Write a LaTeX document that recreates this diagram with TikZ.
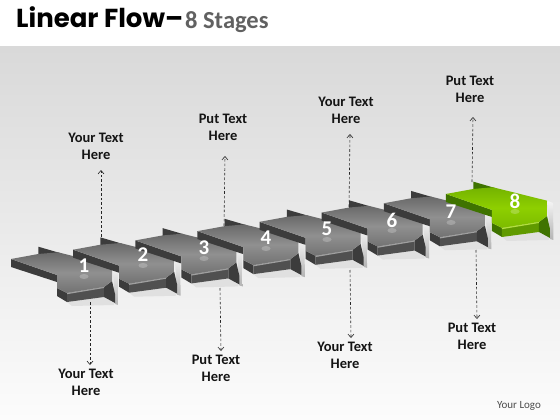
\documentclass[tikz,border=0pt]{standalone}
\usepackage{fontspec}
\setmainfont{Carlito}
\newfontfamily\titlefont{Poppins}
\usetikzlibrary{arrows.meta}
\definecolor{bgtop}{HTML}{D9D9D9}
\definecolor{bgbot}{HTML}{FCFCFC}
\definecolor{ka}{HTML}{696969}\definecolor{kb}{HTML}{909090}\definecolor{kc}{HTML}{727272}
\definecolor{ks}{HTML}{505050}\definecolor{kd}{HTML}{3C3C3C}\definecolor{ke}{HTML}{A0A0A0}
\definecolor{ga}{HTML}{74B300}\definecolor{gb}{HTML}{8ECF00}\definecolor{gc}{HTML}{7CBB00}
\definecolor{gs}{HTML}{609A00}\definecolor{gd}{HTML}{3F7300}\definecolor{ge}{HTML}{B4E040}
\tikzset{
  x=1pt,y=-1pt,
  lab/.style={font=\bfseries\fontsize{14.5}{17}\selectfont,text=black!92,align=center,inner sep=0pt},
  num/.style={font=\bfseries\fontsize{21}{21}\selectfont,text=white,inner sep=0pt},
  lead/.style={dash pattern=on 2.6pt off 2pt,line width=.6pt,black!85,-{Straight Barb[length=3.5pt,width=6pt]}}
}
\newcommand{\arrowshape}[9]{%
  \begin{scope}[shift={(#1,#2)}]
    \fill[black!12] (67,302) -- (104,297) -- (114,303) -- (114,305) -- (72,306) -- cycle;
    \path[top color=black!4,bottom color=black!30] (112.5,266) -- (118,268) -- (118.5,305) -- (115,304) -- cycle;
    \fill[#7] (38.3,246.7) -- (60,253) -- (38.3,254.5) -- cycle;
    \fill[#7] (11,259) -- (57,275) -- (57,296) -- (67,302) -- (67,293) -- (57,288) -- (57,282) -- (11,267) -- cycle;
    \fill[#6] (67,293) -- (104,287) -- (104,297) -- (67,302) -- cycle;
    \fill[#7] (104,287) -- (112,281) -- (115,294) -- (115,303) -- (104,297) -- cycle;
    \path[shading angle=15,top color=#3,bottom color=#5,middle color=#4] (11,259) -- (38.3,254) -- (58,252.3) -- (112,265.7) -- (112,281) -- (104,287) -- (67,293) -- (57,288) -- (57,275) -- cycle;
    \fill[#8] (67,293) -- (104,287) -- (104,288) -- (67,294.2) -- cycle;
    \coordinate (#9) at (0,0);
  \end{scope}}
\begin{document}
\begin{tikzpicture}
\useasboundingbox (0,0) rectangle (560,420);
\fill[white] (0,0) rectangle (560,420);
\path[top color=bgtop,bottom color=bgbot] (0,47) rectangle (560,420);
\node[anchor=base west,inner sep=0pt,font=\titlefont\bfseries\fontsize{26}{26}\selectfont] (title) at (16,28) {Linear Flow–};
\node[anchor=base west,inner sep=0pt,font=\bfseries\fontsize{24.5}{25}\selectfont,text=black!62] (sub) at (185,28.5) {8 Stages};
\foreach \i/\n in {1/a,2/b,3/c,4/d,5/e,6/f,7/g}{
  \pgfmathsetmacro{\dx}{(\i-1)*62.14}
  \pgfmathsetmacro{\dy}{-(\i-1)*9.29}
  \arrowshape{\dx}{\dy}{ka}{kb}{kc}{ks}{kd}{ke}{s\n}
}
\arrowshape{434.98}{-65.03}{ga}{gb}{gc}{gs}{gd}{ge}{sh}
\foreach \t/\x/\y in {1/84/266,2/143/255,3/204/248,4/266/238,5/327/229,6/392/220,7/451/212,8/515/201}{
  \fill[white,opacity=.22] (\x,\y+10.5) ellipse (4.5pt and 2.5pt);
  \node[num] (n\t) at (\x,\y) {\t};
}
\coordinate (u1a) at (101,237); \coordinate (u1b) at (101,170);
\coordinate (u3a) at (224,226); \coordinate (u3b) at (225,156);
\coordinate (u5a) at (349,207); \coordinate (u5b) at (350,134);
\coordinate (u7a) at (472,182); \coordinate (u7b) at (473,117);
\coordinate (d1a) at (90,302); \coordinate (d1b) at (90,365);
\coordinate (d3a) at (220,288); \coordinate (d3b) at (221,351);
\coordinate (d5a) at (350,270); \coordinate (d5b) at (351,338);
\coordinate (d7a) at (476,250); \coordinate (d7b) at (477,319);
\foreach \k in {u1,u3,u5,u7,d1,d3,d5,d7}{\draw[lead] (\k a) -- (\k b);}
\node[lab] (l1) at (96,146) {Your Text\\Here};
\node[lab] (l2) at (223,127) {Put Text\\Here};
\node[lab] (l3) at (346,110) {Your Text\\Here};
\node[lab] (l4) at (470,89) {Put Text\\Here};
\node[lab] (l5) at (86,382) {Your Text\\Here};
\node[lab] (l6) at (216,368) {Put Text\\Here};
\node[lab] (l7) at (345,355) {Your Text\\Here};
\node[lab] (l8) at (472,336) {Put Text\\Here};
\node[font=\fontsize{11}{12}\selectfont,text=black!70,inner sep=0pt] (logo) at (519,406) {Your Logo};
\end{tikzpicture}
\end{document}
